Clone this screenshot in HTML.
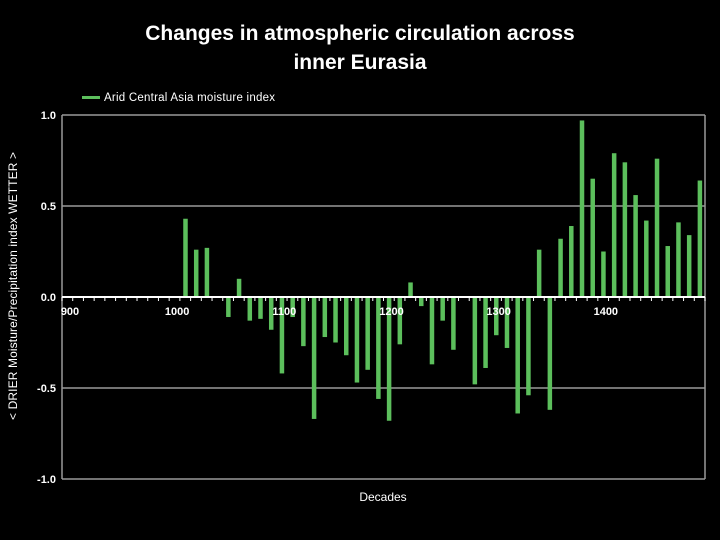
<!DOCTYPE html>
<html><head><meta charset="utf-8"><style>
html,body{margin:0;padding:0;background:#000;}
svg{display:block;font-family:"Liberation Sans",sans-serif;}
</style></head><body>
<svg id="chart" width="720" height="540" viewBox="0 0 720 540">
<rect x="0" y="0" width="720" height="540" fill="#000"/>
<text x="360" y="40" text-anchor="middle" fill="#fff" font-size="21" font-weight="bold">Changes in atmospheric circulation across</text>
<text x="360" y="69" text-anchor="middle" fill="#fff" font-size="21" font-weight="bold">inner Eurasia</text>
<g>
<rect x="82" y="96" width="18" height="3" fill="#5cbf5c"/>
<text x="104" y="101" fill="#fff" font-size="11.5" textLength="171">Arid Central Asia moisture index</text>
</g>
<text transform="translate(17,286) rotate(-90)" text-anchor="middle" fill="#fff" font-size="12" textLength="268">&lt; DRIER   Moisture/Precipitation index  WETTER &gt;</text>
<text x="383" y="501" text-anchor="middle" fill="#fff" font-size="12">Decades</text>
<g id="grid"></g>
<g id="bars"></g>
<g id="axes"></g>
</svg>
<script>
const startDecade = 900;
const decadeCount = 60;
const values = [0,0,0,0,0,0,0,0,0,0,0,
0.43,0.26,0.27,0,-0.11,0.10,-0.13,-0.12,-0.18,-0.42,
-0.11,-0.27,-0.67,-0.22,-0.25,-0.32,-0.47,-0.40,-0.56,-0.68,
-0.26,0.08,-0.05,-0.37,-0.13,-0.29,0,-0.48,-0.39,-0.21,
-0.28,-0.64,-0.54,0.26,-0.62,0.32,0.39,0.97,0.65,0.25,
0.79,0.74,0.56,0.42,0.76,0.28,0.41,0.34,0.64];
const yTicks = [1.0,0.5,0.0,-0.5,-1.0];
const yTickLabels = ["1.0","0.5","0.0","-0.5","-1.0"];
const xLabels = ["900","1000","1100","1200","1300","1400"];

const NS="http://www.w3.org/2000/svg";
const L=62,R=705,T=115,B=479;
const yS=v=>T+(1-v)/2*(B-T);
const bw=(R-L)/decadeCount;
const xS=i=>L+(i+0.5)*bw;
function mk(t,a,p){const e=document.createElementNS(NS,t);for(const k in a)e.setAttribute(k,a[k]);p.appendChild(e);return e;}
const grid=document.getElementById('grid'),bars=document.getElementById('bars'),axes=document.getElementById('axes');
yTicks.forEach((v,k)=>{
  if(v!==0){const g=mk('line',{x1:L,x2:R,y1:yS(v),y2:yS(v),stroke:'#999','stroke-width':1.5},grid);
  
  }
  const t=mk('text',{x:56,y:yS(v)+4,'text-anchor':'end',fill:'#fff','font-size':11,'font-weight':'bold'},axes);
  t.textContent=yTickLabels[k];
  
  
});
const rb=mk('line',{x1:R,x2:R,y1:T,y2:B,stroke:'#999','stroke-width':1.5},grid);


values.forEach((v,i)=>{
  if(v===0)return;
  const y0=yS(0),y1=yS(v);
  const r=mk('rect',{x:xS(i)-2,y:Math.min(y0,y1),width:4.5,height:Math.abs(y1-y0),fill:'#5cbf5c'},bars);
  
  
});
const ya=mk('line',{x1:L,x2:L,y1:T,y2:B,stroke:'#999','stroke-width':1.5},axes);


const xa=mk('line',{x1:L,x2:R,y1:yS(0),y2:yS(0),stroke:'#fff','stroke-width':2},axes);


for(let i=0;i<=decadeCount;i++){
  const tk=mk('line',{x1:L+i*bw,x2:L+i*bw,y1:yS(0),y2:yS(0)+4,stroke:'#fff','stroke-width':1},axes);
  
  
}
xLabels.forEach((s,k)=>{
  const t=mk('text',{x:L+k*10*bw+8,y:yS(0)+18,'text-anchor':'middle',fill:'#fff','font-size':11,'font-weight':'bold'},axes);
  t.textContent=s;
  
  
});
</script>
</body></html>
